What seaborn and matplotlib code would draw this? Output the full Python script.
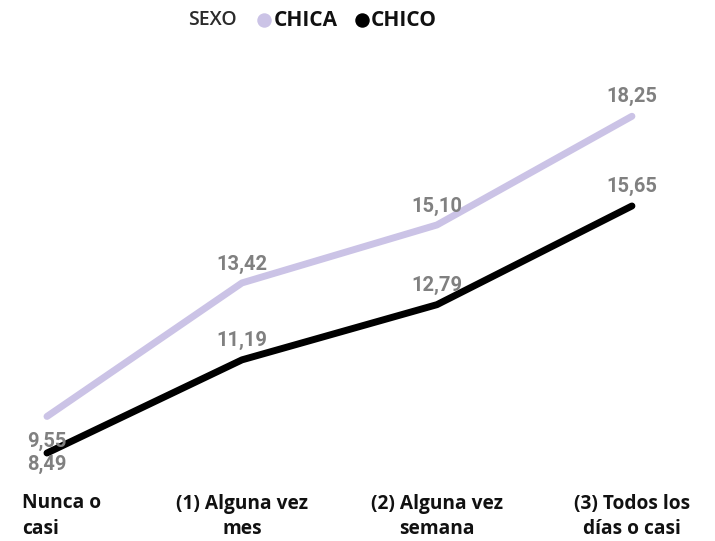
import pandas as pd
import matplotlib
matplotlib.use('Agg')
import matplotlib.pyplot as plt
from matplotlib.lines import Line2D
import seaborn as sns

# ── Data ──────────────────────────────────────────────────────────────────────
categorias = ['Nunca o\ncasi', '(1) Alguna vez\nmes', '(2) Alguna vez\nsemana', '(3) Todos los\ndías o casi']
chica = [9.55, 13.42, 15.10, 18.25]
chico = [8.49, 11.19, 12.79, 15.65]
series = ['CHICA', 'CHICO']
colores = {'CHICA': '#cbc3e6', 'CHICO': '#000000'}

df = pd.DataFrame({
    'pos': list(range(len(categorias))) * 2,
    'valor': chica + chico,
    'sexo': ['CHICA'] * len(chica) + ['CHICO'] * len(chico),
})

# ── Plot ──────────────────────────────────────────────────────────────────────
sns.set_style('white')
plt.rcParams['font.family'] = ['Open Sans', 'DejaVu Sans']

W, H = 715, 541
fig = plt.figure(figsize=(W / 100, H / 100), dpi=100)
ax = fig.add_axes([0, 0, 1, 1])

sns.lineplot(data=df, x='pos', y='valor', hue='sexo', palette=colores,
             linewidth=5, ax=ax, legend=False, solid_capstyle='round')

ax.set_xlim(-0.241, 3.426)
ax.set_ylim(5.94, 21.62)
for s in ax.spines.values():
    s.set_visible(False)
ax.set_yticks([])
ax.set_xticks([])
ax.set_xlabel('')
ax.set_ylabel('')

# data labels (vertical offsets in points)
offsets = {
    'CHICA': [-18, 13.5, 13.5, 14],
    'CHICO': [-8.5, 14, 14, 14],
}
for nombre, vals in (('CHICA', chica), ('CHICO', chico)):
    for i, v in enumerate(vals):
        ax.annotate(f'{v:.2f}'.replace('.', ','), (i, v),
                    xytext=(0, offsets[nombre][i]), textcoords='offset points',
                    ha='center', va='center', fontsize=14.5, fontweight='bold',
                    color='#808080', family=['Roboto', 'DejaVu Sans'])

# category labels
for i, lab in enumerate(categorias):
    if i == 0:
        ha, dx = 'left', -18
    else:
        ha, dx = 'center', 0
    ax.annotate(lab, (i, 24.5), xycoords=('data', 'figure pixels'),
                xytext=(dx, 0), textcoords='offset points',
                ha=ha, va='center', fontsize=13.8, fontweight='bold',
                color='#111111', linespacing=1.4, multialignment=ha)

# legend
ly = 1 - 20 / H
fig.text(188 / W, ly, 'SEXO', fontsize=14, color='#2b2b2b',
         va='center', ha='left', fontweight='semibold')
for nombre, mx, tx in (('CHICA', 263.5, 274), ('CHICO', 361.5, 371)):
    fig.add_artist(Line2D([mx / W], [ly], marker='o', markersize=9.4,
                          linestyle='', color=colores[nombre],
                          transform=fig.transFigure))
    fig.text(tx / W, ly, nombre, fontsize=15, fontweight='bold',
             color='#111111', va='center', ha='left')

fig.savefig('out.png', dpi=100)
plt.close(fig)
